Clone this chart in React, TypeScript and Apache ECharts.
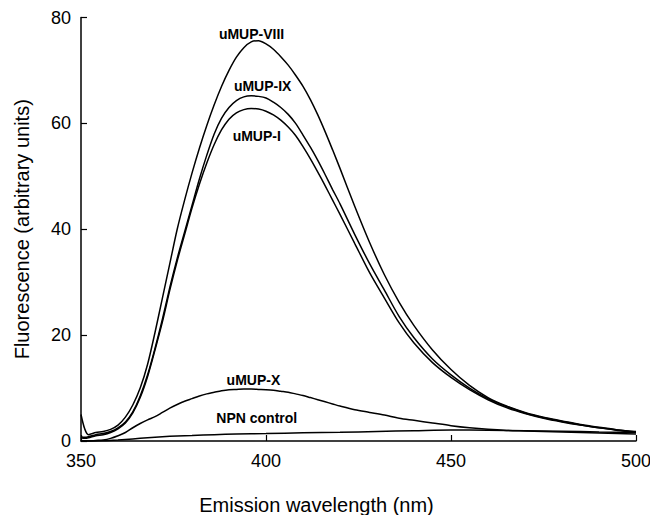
import React, { useEffect, useRef } from "react";
import * as echarts from "echarts";

const wavelength = [350, 351, 352, 354, 356, 358, 360, 362, 364, 366, 368, 370, 372, 374, 376, 378, 380, 382, 384, 386, 388, 390, 392, 394, 396, 398, 400, 402, 404, 406, 408, 410, 412, 414, 416, 418, 420, 424, 428, 432, 436, 440, 445, 450, 455, 460, 465, 470, 475, 480, 485, 490, 495, 500];

const uMUP_VIII = [5, 2.3, 1.2, 1.6, 1.8, 2.2, 3.0, 4.5, 6.8, 10, 14.5, 20.5, 27, 33.5, 40, 45.5, 50.6, 55.3, 59.6, 63.5, 67, 70, 72.5, 74.3, 75.4, 75.6, 75, 74, 72.6, 71, 69.1, 67, 64.5, 61.6, 58.4, 55, 51.5, 44.3, 37.5, 31.4, 26.2, 21.8, 17.2, 13.5, 10.5, 8.2, 6.6, 5.4, 4.5, 3.8, 3.1, 2.6, 2.1, 1.8];

const uMUP_IX = [0.8, 0.7, 0.8, 1.2, 1.4, 1.8, 2.5, 3.6, 5.5, 8.5, 12.5, 17.5, 23, 29, 34.5, 39.5, 44.5, 49.5, 54, 58, 61, 63, 64.3, 65, 65.2, 65.1, 64.8, 64, 63, 61.7, 60, 57.8, 55.5, 53, 50.3, 47.5, 44.8, 39, 33.5, 28.5, 23.5, 19.5, 15.5, 12.5, 10, 8, 6.5, 5.3, 4.4, 3.7, 3.0, 2.5, 2.1, 1.7];

const uMUP_I = [0.6, 0.5, 0.6, 1.0, 1.2, 1.6, 2.3, 3.4, 5.3, 8.2, 12.2, 17.2, 22.5, 28.5, 34, 39, 44, 48.5, 52.5, 56, 58.8, 60.8, 62, 62.6, 62.8, 62.7, 62.3, 61.6, 60.6, 59.3, 57.7, 55.6, 53.3, 50.8, 48.2, 45.5, 42.8, 37.3, 31.8, 27, 22.3, 18.5, 14.8, 12, 9.7, 7.8, 6.3, 5.2, 4.3, 3.6, 3.0, 2.5, 2.0, 1.7];

const uMUP_X = [0, 0, 0, 0.1, 0.2, 0.5, 1, 1.6, 2.5, 3.3, 4, 4.6, 5.4, 6.2, 6.9, 7.5, 8, 8.5, 8.9, 9.2, 9.5, 9.7, 9.75, 9.8, 9.8, 9.75, 9.7, 9.6, 9.4, 9.2, 8.9, 8.6, 8.2, 7.8, 7.4, 7, 6.6, 5.9, 5.4, 4.9, 4.3, 3.9, 3.4, 2.9, 2.5, 2.2, 2.0, 1.9, 1.8, 1.7, 1.6, 1.5, 1.4, 1.3];

const npnWavelength = [350, 352, 356, 360, 364, 368, 372, 376, 380, 386, 392, 400, 410, 420, 430, 440, 450, 460, 470, 480, 490, 500];
const npnControl = [0, 0, 0.05, 0.2, 0.4, 0.6, 0.8, 0.95, 1.05, 1.2, 1.3, 1.4, 1.55, 1.65, 1.8, 1.95, 2.1, 2.05, 1.95, 1.85, 1.7, 1.6];

const seriesNames = ["uMUP-VIII", "uMUP-IX", "uMUP-I", "uMUP-X", "NPN control"];
const labelPositions: [number, number][] = [
  [396.1, 76.8],
  [399.1, 67.0],
  [397.5, 57.6],
  [396.6, 11.6],
  [397.5, 4.3],
];

const xTicks = [350, 400, 450, 500];
const yTicks = [0, 20, 40, 60, 80];

const FONT = "'Liberation Sans', Arial, Helvetica, sans-serif";

export default function App() {
  const ref = useRef<HTMLDivElement>(null);

  useEffect(() => {
    if (!ref.current) return;
    const chart = echarts.init(ref.current, undefined, { renderer: "svg" });

    const pairs = (xs: number[], ys: number[]) => xs.map((x, i) => [x, ys[i]]);
    const datasets = [
      pairs(wavelength, uMUP_VIII),
      pairs(wavelength, uMUP_IX),
      pairs(wavelength, uMUP_I),
      pairs(wavelength, uMUP_X),
      pairs(npnWavelength, npnControl),
    ];

    const series = datasets.map((data, i) => ({
      name: seriesNames[i],
      type: "line",
      data,
      smooth: 0.3,
      showSymbol: false,
      symbol: "none",
      silent: true,
      lineStyle: { color: "#000", width: 1.5 },
      markPoint: {
        symbol: "circle",
        symbolSize: 1,
        silent: true,
        itemStyle: { color: "rgba(0,0,0,0)" },
        label: {
          show: true,
          position: "inside",
          formatter: seriesNames[i],
          color: "#000",
          fontWeight: "bold",
          fontSize: 14,
          fontFamily: FONT,
        },
        data: [{ coord: labelPositions[i] }],
      },
    }));

    chart.setOption({
      animation: false,
      backgroundColor: "#fff",
      grid: {
        left: 81,
        right: 14,
        top: 17.5,
        bottom: 74,
        containLabel: false,
        outerBoundsMode: "none",
      },
      xAxis: {
        type: "value",
        min: xTicks[0],
        max: xTicks[xTicks.length - 1],
        interval: 50,
        name: "Emission wavelength (nm)",
        nameLocation: "middle",
        nameGap: 54,
        nameTextStyle: {
          fontSize: 20,
          color: "#000",
          fontFamily: FONT,
          padding: [0, 84, 0, 0],
        },
        axisLine: { lineStyle: { color: "#000", width: 1.5 } },
        axisTick: { inside: true, length: 6, lineStyle: { color: "#000", width: 1.2 } },
        axisLabel: { fontSize: 18, color: "#000", fontFamily: FONT, margin: 11 },
        splitLine: { show: false },
      },
      yAxis: {
        type: "value",
        min: yTicks[0],
        max: yTicks[yTicks.length - 1],
        interval: 20,
        name: "Fluorescence (arbitrary units)",
        nameLocation: "middle",
        nameGap: 49,
        nameTextStyle: { fontSize: 20, color: "#000", fontFamily: FONT },
        axisLine: { lineStyle: { color: "#000", width: 1.5 } },
        axisTick: { inside: true, length: 6, lineStyle: { color: "#000", width: 1.2 } },
        axisLabel: { fontSize: 18, color: "#000", fontFamily: FONT, margin: 10 },
        splitLine: { show: false },
      },
      series,
    });

    return () => chart.dispose();
  }, []);

  return (
    <div
      ref={ref}
      style={{ position: "fixed", left: 0, top: 0, width: 650, height: 515 }}
    />
  );
}
